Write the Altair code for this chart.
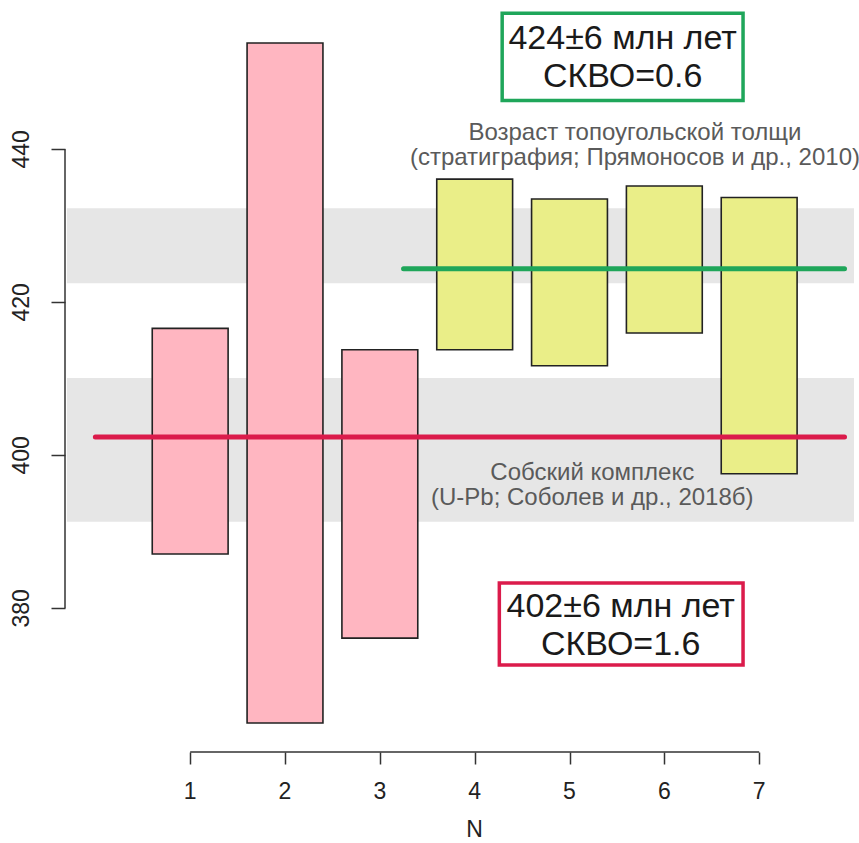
import altair as alt
import pandas as pd

# Zircon grain ages, млн лет (lower / upper bound of each grain's interval)
grain_n = [1, 2, 3, 4, 5, 6, 7]
age_low = [387.1, 365.0, 376.1, 413.8, 411.7, 416.0, 397.6]
age_high = [416.6, 453.9, 413.8, 436.1, 433.5, 435.2, 433.7]
grain_group = ["Собский комплекс"] * 3 + ["Топоугольская толща"] * 4

# Reference age ranges from the literature (grey bands)
band_low = [391.3, 422.5]
band_high = [410.1, 432.3]

# Weighted mean ages of the two grain groups
mean_age = [402.4, 424.4]
mean_from = [0.0, 3.25]
mean_to = [7.9, 7.9]
mean_group = ["Собский комплекс", "Топоугольская толща"]

x_ticks = [1, 2, 3, 4, 5, 6, 7]
y_ticks = [380, 400, 420, 440]

FONT = "Liberation Sans"
W, H = 789, 742
X_DOM = [-0.32, 8.0]
Y_DOM = [362, 459]
PINK, YELLOW = "#FFB6C1", "#EAEE88"
RED, GREEN = "#DB1B4B", "#1FA65A"
GROUPS = ["Собский комплекс", "Топоугольская толща"]
TICK_FS = 23

xs = alt.Scale(domain=X_DOM, nice=False, zero=False)
ys = alt.Scale(domain=Y_DOM, nice=False, zero=False)

# Ticks only; the tick labels, axis lines and the N title are drawn as marks below
X_AXIS = alt.Axis(values=x_ticks, domain=False, offset=6, tickSize=12, tickWidth=1.5,
                  tickColor="#333", labels=False, title=None, grid=False)
Y_AXIS = alt.Axis(values=y_ticks, domain=False, tickSize=14, tickWidth=1.5,
                  tickColor="#333", labels=False, title=None, grid=False)


def xe(field):
    return alt.X(field, scale=xs, axis=X_AXIS, title=None)


def ye(field):
    return alt.Y(field, scale=ys, axis=Y_AXIS, title=None)


grains = pd.DataFrame({"n": grain_n, "lo": age_low, "hi": age_high, "grp": grain_group})
bands = pd.DataFrame({"lo": band_low, "hi": band_high, "x0": [-0.3, -0.3], "x1": [8.0, 8.0]})
means = pd.DataFrame({"age": mean_age, "x0": mean_from, "x1": mean_to, "grp": mean_group})

band_layer = alt.Chart(bands).mark_rect(color="#E6E6E6").encode(
    x=xe("x0:Q"), x2="x1:Q", y=ye("lo:Q"), y2="hi:Q",
)

bar_layer = alt.Chart(grains).transform_calculate(
    x0="datum.n - 0.4", x1="datum.n + 0.4"
).mark_rect(stroke="#222", strokeWidth=1.6).encode(
    x=xe("x0:Q"), x2="x1:Q", y=ye("lo:Q"), y2="hi:Q",
    fill=alt.Fill("grp:N", scale=alt.Scale(domain=GROUPS, range=[PINK, YELLOW]), legend=None),
)

mean_layer = alt.Chart(means).mark_rule(strokeWidth=5, strokeCap="round").encode(
    x=xe("x0:Q"), x2="x1:Q", y=ye("age:Q"),
    color=alt.Color("grp:N", scale=alt.Scale(domain=GROUPS, range=[RED, GREEN]), legend=None),
)

# R-style axis lines that span only the tick range
y_axis_line = alt.Chart(pd.DataFrame({"lo": [min(y_ticks)], "hi": [max(y_ticks)]})).mark_rule(
    color="#333", strokeWidth=1.5).encode(
    x=alt.value(0), y=ye("lo:Q"), y2="hi:Q")
x_axis_line = alt.Chart(pd.DataFrame({"x0": [min(x_ticks)], "x1": [max(x_ticks)]})).mark_rule(
    color="#333", strokeWidth=1.5).encode(
    y=alt.value(H + 6), x=xe("x0:Q"), x2="x1:Q")

# Tick labels: y labels rotated (read bottom to top), x labels below the axis line
y_labels = alt.Chart(pd.DataFrame({"v": y_ticks})).mark_text(
    font=FONT, fontSize=TICK_FS, color="#222", angle=270, align="center", baseline="bottom"
).encode(x=alt.value(-31), y=ye("v:Q"), text=alt.Text("v:Q", format="d"))
x_labels = alt.Chart(pd.DataFrame({"v": x_ticks})).mark_text(
    font=FONT, fontSize=TICK_FS, color="#222", align="center", baseline="middle"
).encode(x=xe("v:Q"), y=alt.value(H + 46), text=alt.Text("v:Q", format="d"))
x_title = alt.Chart(pd.DataFrame({"v": [4], "t": ["N"]})).mark_text(
    font=FONT, fontSize=TICK_FS, color="#222", align="center", baseline="middle"
).encode(x=xe("v:Q"), y=alt.value(H + 84), text="t:N")

# Group captions over the grey bands (y is the first line's centre)
captions = pd.DataFrame({
    "x": [5.69, 5.24],
    "y": [442.1, 397.7],
    "t": [["Возраст топоугольской толщи", "(стратиграфия; Прямоносов и др., 2010)"],
          ["Собский комплекс", "(U-Pb; Соболев и др., 2018б)"]],
})
caption_layer = alt.Chart(captions).mark_text(
    font=FONT, fontSize=24, color="#5A5A5A", lineHeight=25, baseline="middle", align="center"
).encode(x=xe("x:Q"), y=ye("y:Q"), text="t:N")

# Boxed mean-age results
boxes = pd.DataFrame({
    "x0": [4.29, 4.26], "x1": [6.83, 6.83],
    "y0": [446.4, 372.6], "y1": [457.8, 383.3],
    "grp": ["Топоугольская толща", "Собский комплекс"],
})
box_layer = alt.Chart(boxes).mark_rect(fill="white", strokeWidth=3.5).encode(
    x=xe("x0:Q"), x2="x1:Q", y=ye("y0:Q"), y2="y1:Q",
    stroke=alt.Stroke("grp:N", scale=alt.Scale(domain=GROUPS, range=[RED, GREEN]), legend=None),
)
box_text = pd.DataFrame({
    "x": [5.56, 5.54],
    "y": [454.4, 380.2],
    "t": [["424±6 млн лет", "СКВО=0.6"], ["402±6 млн лет", "СКВО=1.6"]],
})
box_text_layer = alt.Chart(box_text).mark_text(
    font=FONT, fontSize=34, color="#1A1A1A", lineHeight=38, baseline="middle", align="center"
).encode(x=xe("x:Q"), y=ye("y:Q"), text="t:N")

chart = alt.layer(
    band_layer, bar_layer, mean_layer, y_axis_line, x_axis_line,
    y_labels, x_labels, x_title,
    caption_layer, box_layer, box_text_layer,
).properties(
    width=W, height=H,
    autosize=alt.AutoSizeParams(type="none"),
    padding={"left": 65, "top": 4, "right": 5, "bottom": 97},
    background="white",
).configure_view(stroke=None)

chart.save("out.html", embed_options={"renderer": "svg", "actions": False})
